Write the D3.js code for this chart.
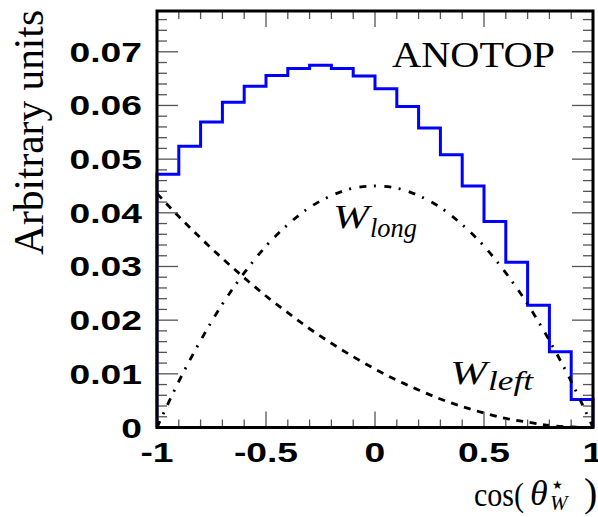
<!DOCTYPE html>
<html><head><meta charset="utf-8">
<script src="https://cdn.jsdelivr.net/npm/d3@7"></script>
<style>body{margin:0;background:#fff}</style>
</head><body>
<svg id="c" width="598" height="517"></svg>
<script>
// ---- data ----
const binEdges = [-1.0,-0.9,-0.8,-0.7,-0.6,-0.5,-0.4,-0.3,-0.2,-0.1,0.0,0.1,0.2,0.3,0.4,0.5,0.6,0.7,0.8,0.9,1.0];
const histValues = [0.0472,0.0524,0.0569,0.0606,0.0636,0.0656,0.0669,0.0675,0.0669,0.0655,
                    0.0631,0.0598,0.0558,0.0508,0.0450,0.0384,0.0308,0.0228,0.0141,0.0052];
const curveX = [-1.0,-0.9,-0.8,-0.7,-0.6,-0.5,-0.4,-0.3,-0.2,-0.1,0.0,0.1,0.2,0.3,0.4,0.5,0.6,0.7,0.8,0.9,1.0];
const wLeft = [0.0436,0.0393,0.0353,0.0315,0.0279,0.0245,0.0214,0.0184,0.0157,0.0132,0.0109,
               0.0088,0.0070,0.0053,0.0039,0.0027,0.0017,0.0010,0.0004,0.0001,0.0000];
const wLong = [0.0000,0.0086,0.0162,0.0230,0.0288,0.0338,0.0378,0.0410,0.0432,0.0446,0.0450,
               0.0446,0.0432,0.0410,0.0378,0.0338,0.0288,0.0230,0.0162,0.0086,0.0000];
const yTickLabels = ["0","0.01","0.02","0.03","0.04","0.05","0.06","0.07"];
const yTickValues = [0,0.01,0.02,0.03,0.04,0.05,0.06,0.07];
const xTickLabels = ["-1","-0.5","0","0.5","1"];
const xTickValues = [-1,-0.5,0,0.5,1];

// ---- layout ----
const L=157, R=593, T=11, B=427.5;
const x = d3.scaleLinear().domain([-1,1]).range([L,R]);
const y = d3.scaleLinear().domain([0,0.0776]).range([B,T]);
const svg = d3.select("#c");

// histogram path (step)
const pts = [[binEdges[0],0]];
histValues.forEach((v,i)=>{pts.push([binEdges[i],v]);pts.push([binEdges[i+1],v]);});
pts.push([binEdges[binEdges.length-1],0]);
svg.append("path").attr("d", d3.line().x(d=>x(d[0])).y(d=>y(d[1]))(pts))
  .attr("fill","none").attr("stroke","#0000ff").attr("stroke-width",3).attr("stroke-linejoin","miter");

// curves
const line = d3.line().x((d,i)=>x(curveX[i])).y(d=>y(d)).curve(d3.curveMonotoneX);
svg.append("path").attr("d", line(wLeft)).attr("fill","none").attr("stroke","#000")
  .attr("stroke-width",2.8).attr("stroke-dasharray","7,6.5");
svg.append("path").attr("d", line(wLong)).attr("fill","none").attr("stroke","#000")
  .attr("stroke-width",2.8).attr("stroke-dasharray","7,7.5,2,8.5");

// ticks
const tg = svg.append("g").attr("stroke","#555").attr("stroke-width",1.3);
const yMinor = d3.range(0,0.0777,0.002);
yMinor.forEach(v=>{
  const major = Math.abs(v/0.01 - Math.round(v/0.01))<1e-6;
  const len = major?21:10;
  tg.append("line").attr("x1",L).attr("x2",L+len).attr("y1",y(v)).attr("y2",y(v));
  tg.append("line").attr("x1",R).attr("x2",R-len).attr("y1",y(v)).attr("y2",y(v));
});
d3.range(-1,1.0001,0.1).forEach(v=>{
  const major = Math.abs(v/0.5 - Math.round(v/0.5))<1e-6;
  const len = major?16:8;
  tg.append("line").attr("x1",x(v)).attr("x2",x(v)).attr("y1",B).attr("y2",B-len);
  tg.append("line").attr("x1",x(v)).attr("x2",x(v)).attr("y1",T).attr("y2",T+len);
});

// frame
svg.append("rect").attr("x",L).attr("y",T).attr("width",R-L).attr("height",B-T)
  .attr("fill","none").attr("stroke","#000").attr("stroke-width",3);

// tick labels
const lab = {"font-family":"Liberation Sans, Arial, sans-serif","font-weight":"bold","font-size":"28px"};
function stretch(sel,f){sel.each(function(){const n=this.getComputedTextLength();d3.select(this).attr("textLength",n*f).attr("lengthAdjust","spacingAndGlyphs");});}
const yl = svg.append("g").selectAll("text").data(yTickValues).join("text")
  .attr("x",142).attr("y",d=>y(d)+10).attr("text-anchor","end").text((d,i)=>yTickLabels[i]);
Object.entries(lab).forEach(([k,v])=>yl.attr(k,v));
stretch(yl,1.33);
const xl = svg.append("g").selectAll("text").data(xTickValues).join("text")
  .attr("x",d=>x(d)).attr("y",462).attr("text-anchor","middle").text((d,i)=>xTickLabels[i]);
Object.entries(lab).forEach(([k,v])=>xl.attr(k,v));
stretch(xl,1.33);

// titles
const serif = "Liberation Serif, Times New Roman, serif";
svg.append("text").attr("transform","translate(43,10) rotate(-90)").attr("text-anchor","end")
  .attr("font-family",serif).attr("font-size","42px").attr("textLength",245).attr("lengthAdjust","spacingAndGlyphs")
  .text("Arbitrary units");
svg.append("text").attr("x",392).attr("y",67).attr("font-family",serif).attr("font-size","35px")
  .attr("textLength",163).attr("lengthAdjust","spacingAndGlyphs").text("ANOTOP");

function t(xp,yp,str,size,len,italic){
  const e = svg.append("text").attr("x",xp).attr("y",yp).attr("font-family",serif).attr("font-size",size+"px").text(str);
  if(italic) e.attr("font-style","italic");
  if(len) e.attr("textLength",len).attr("lengthAdjust","spacingAndGlyphs");
  return e;
}
t(333,228,"W",34,36,true);
t(370,237,"long",27,47,true);
t(450,384,"W",34,37,true);
t(488,390,"left",27,45,true);

// x title
t(474,506,"cos(",34,50,false);
t(530,505,"θ",36,null,true);
svg.append("text").attr("x",552).attr("y",489).attr("font-family","DejaVu Sans").attr("font-size","12px").text("★");
t(550,510,"W",21,null,true);
t(584,506,")",40,null,false);
</script>
</body></html>
